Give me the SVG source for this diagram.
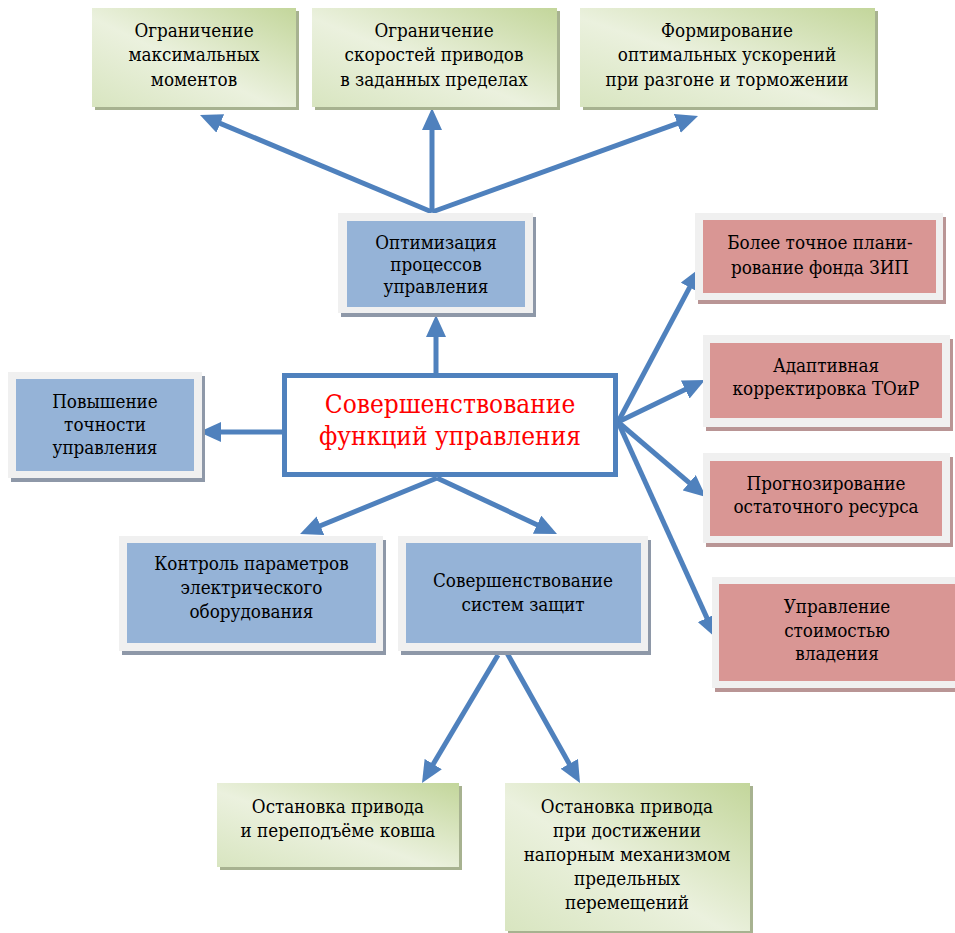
<svg xmlns="http://www.w3.org/2000/svg" width="955" height="933" viewBox="0 0 955 933">
<defs>
<linearGradient id="gr" x1="1" y1="0" x2="0" y2="1">
<stop offset="0" stop-color="#c3d69b"/>
<stop offset="0.55" stop-color="#ebf1de"/>
<stop offset="1" stop-color="#d8e5c0"/>
</linearGradient>
<marker id="ah" viewBox="0 0 22 20" markerWidth="22" markerHeight="20" refX="4" refY="10" orient="auto" markerUnits="userSpaceOnUse">
<path d="M0,0 L22,10 L0,20 z" fill="#4f81bd"/>
</marker>
</defs>
<style>
text{font-family:"DejaVu Serif Condensed","DejaVu Serif","Liberation Serif",serif}
.t{font-size:18.7px;fill:#000;text-anchor:middle}
.c{font-size:26px;fill:#ff0000;text-anchor:middle}
.g{fill:url(#gr)}
.gs{fill:#a7b290}
.fr{fill:#f0f0f0}
.bs{fill:#8e98a8}
.rs{fill:#b99595}
.b{fill:#95b3d7}
.r{fill:#d99694}
.a{stroke:#4f81bd;stroke-width:5;fill:none;marker-end:url(#ah)}
</style>
<rect width="955" height="933" fill="#fff"/>
<g id="connectors">
<line class="a" x1="432" y1="212" x2="216.6" y2="121.9"/>
<line class="a" x1="432" y1="212" x2="432" y2="126"/>
<line class="a" x1="432" y1="212" x2="681.1" y2="122.1"/>
<line class="a" x1="436" y1="373" x2="436" y2="333"/>
<line class="a" x1="282" y1="432" x2="217" y2="432"/>
<line class="a" x1="437" y1="478" x2="316.7" y2="527.2"/>
<line class="a" x1="437" y1="478" x2="540.7" y2="526.4"/>
<line class="a" x1="618" y1="422" x2="691.5" y2="283.9"/>
<line class="a" x1="618" y1="422" x2="688.8" y2="387.8"/>
<line class="a" x1="618" y1="422" x2="692.3" y2="485.3"/>
<line class="a" x1="618" y1="422" x2="708.6" y2="621.6"/>
<line class="a" x1="498" y1="655" x2="431.2" y2="767.5"/>
<line class="a" x1="507" y1="653" x2="571.2" y2="767.3"/>
</g>
<g id="n-top1">
<rect class="gs" x="95" y="11" width="204" height="99"/>
<rect class="g" x="92" y="8" width="204" height="99"/>
<text class="t" x="194" y="37">Ограничение</text>
<text class="t" x="194" y="61">максимальных</text>
<text class="t" x="194" y="86">моментов</text>
</g>
<g id="n-top2">
<rect class="gs" x="315" y="11" width="245" height="99"/>
<rect class="g" x="312" y="8" width="245" height="99"/>
<text class="t" x="434" y="37">Ограничение</text>
<text class="t" x="434" y="61">скоростей приводов</text>
<text class="t" x="434" y="86">в заданных пределах</text>
</g>
<g id="n-top3">
<rect class="gs" x="583" y="11" width="295" height="99"/>
<rect class="g" x="580" y="8" width="295" height="99"/>
<text class="t" x="727" y="37">Формирование</text>
<text class="t" x="727" y="61">оптимальных ускорений</text>
<text class="t" x="727" y="86">при разгоне и торможении</text>
</g>
<g id="n-opt">
<rect class="bs" x="341" y="217" width="195" height="100"/>
<rect class="fr" x="338" y="213" width="195" height="100"/>
<rect class="b" x="347" y="221" width="178" height="86"/>
<text class="t" x="436" y="249">Оптимизация</text>
<text class="t" x="436" y="271">процессов</text>
<text class="t" x="436" y="293">управления</text>
</g>
<g id="n-center">
<rect x="284.5" y="375.5" width="331" height="99" fill="#fff" stroke="#4f81bd" stroke-width="5"/>
<text class="c" x="450" y="413">Совершенствование</text>
<text class="c" x="450" y="445">функций управления</text>
</g>
<g id="n-acc">
<rect class="bs" x="11" y="376" width="194" height="106"/>
<rect class="fr" x="8" y="372" width="194" height="106"/>
<rect class="b" x="16" y="379" width="178" height="92"/>
<text class="t" x="105" y="408">Повышение</text>
<text class="t" x="105" y="431">точности</text>
<text class="t" x="105" y="454">управления</text>
</g>
<g id="n-ctrl">
<rect class="bs" x="122" y="540" width="264" height="115"/>
<rect class="fr" x="119" y="536" width="264" height="115"/>
<rect class="b" x="127" y="543" width="249" height="100"/>
<text class="t" x="251.5" y="570">Контроль параметров</text>
<text class="t" x="251.5" y="594">электрического</text>
<text class="t" x="251.5" y="618">оборудования</text>
</g>
<g id="n-prot">
<rect class="bs" x="401" y="540" width="250" height="115"/>
<rect class="fr" x="398" y="536" width="250" height="115"/>
<rect class="b" x="406" y="543" width="235" height="100"/>
<text class="t" x="523" y="587">Совершенствование</text>
<text class="t" x="523" y="611">систем защит</text>
</g>
<g id="n-r1">
<rect class="rs" x="698" y="217" width="248" height="87"/>
<rect class="fr" x="695" y="213" width="248" height="87"/>
<rect class="r" x="703" y="220" width="233" height="73"/>
<text class="t" x="820" y="249">Более точное плани-</text>
<text class="t" x="820" y="274">рование фонда ЗИП</text>
</g>
<g id="n-r2">
<rect class="rs" x="706" y="339" width="247" height="92"/>
<rect class="fr" x="703" y="335" width="247" height="92"/>
<rect class="r" x="710" y="343" width="232" height="75"/>
<text class="t" x="826" y="372">Адаптивная</text>
<text class="t" x="826" y="395">корректировка ТОиР</text>
</g>
<g id="n-r3">
<rect class="rs" x="706" y="457" width="247" height="90"/>
<rect class="fr" x="703" y="453" width="247" height="90"/>
<rect class="r" x="710" y="461" width="232" height="75"/>
<text class="t" x="826" y="490">Прогнозирование</text>
<text class="t" x="826" y="513">остаточного ресурса</text>
</g>
<g id="n-r4">
<rect class="rs" x="715" y="581" width="250" height="111"/>
<rect class="fr" x="712" y="577" width="250" height="111"/>
<rect class="r" x="719" y="584" width="240" height="97"/>
<text class="t" x="837" y="613">Управление</text>
<text class="t" x="837" y="637">стоимостью</text>
<text class="t" x="837" y="660">владения</text>
</g>
<g id="n-bot1">
<rect class="gs" x="220" y="786" width="242" height="84"/>
<rect class="g" x="217" y="783" width="242" height="84"/>
<text class="t" x="338" y="813">Остановка привода</text>
<text class="t" x="338" y="837">и переподъёме ковша</text>
</g>
<g id="n-bot2">
<rect class="gs" x="508" y="786" width="245" height="148"/>
<rect class="g" x="505" y="783" width="245" height="148"/>
<text class="t" x="627" y="813">Остановка привода</text>
<text class="t" x="627" y="837">при достижении</text>
<text class="t" x="627" y="861">напорным механизмом</text>
<text class="t" x="627" y="885">предельных</text>
<text class="t" x="627" y="909">перемещений</text>
</g>
</svg>
